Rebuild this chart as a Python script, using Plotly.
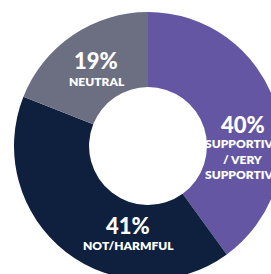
import plotly.graph_objects as go

# ---- data ----
categories = ["SUPPORTIVE / VERY SUPPORTIVE", "NOT/HARMFUL", "NEUTRAL"]
values = [40, 41, 19]
label_lines = ["SUPPORTIVE<br>/ VERY<br>SUPPORTIVE", "NOT/HARMFUL", "NEUTRAL"]

# ---- style / layout ----
colors = ["#6556A3", "#0E203E", "#6C6F81"]
CX, CY, R = 148, 146, 134  # donut centre / radius in pixels
W, H = CX + R, CY + R      # figure size (page is cropped by the window)
HOLE = 0.44
FONT = "Lato"

# annotation anchor positions (pixels): (pct_x, pct_y, label_x, label_y)
text_pos = [
    (243, 124, 242, 159),
    (128, 225, 128, 245),
    (96, 60, 97, 81),
]

def px(x):
    return x / W

def py(y):
    return 1 - y / H

fig = go.Figure(go.Pie(
    labels=categories,
    values=values,
    hole=HOLE,
    sort=False,
    direction="clockwise",
    rotation=0,
    marker=dict(colors=colors, line=dict(width=0)),
    textinfo="none",
    hoverinfo="label+percent",
    showlegend=False,
    domain=dict(x=[px(CX - R), px(CX + R)], y=[py(CY + R), py(CY - R)]),
))

annotations = []
for v, lab, (x1, y1, x2, y2) in zip(values, label_lines, text_pos):
    annotations.append(dict(
        text=f"{v}%", x=px(x1), y=py(y1), xref="paper", yref="paper",
        showarrow=False, xanchor="center", yanchor="middle",
        font=dict(family=FONT, size=22, color="white", weight=900),
    ))
    annotations.append(dict(
        text=lab, x=px(x2), y=py(y2), xref="paper", yref="paper",
        showarrow=False, xanchor="center", yanchor="middle", align="center",
        font=dict(family=FONT, size=12, color="white", weight=800),
    ))

fig.update_layout(
    width=W, height=H,
    margin=dict(l=0, r=0, t=0, b=0),
    paper_bgcolor="white",
    plot_bgcolor="white",
    annotations=annotations,
)

fig.write_html(
    "out.html",
    config={"displayModeBar": False},
    post_script="document.documentElement.style.overflow='hidden';"
                "document.body.style.margin='0';"
                "document.body.style.overflow='hidden';",
)
